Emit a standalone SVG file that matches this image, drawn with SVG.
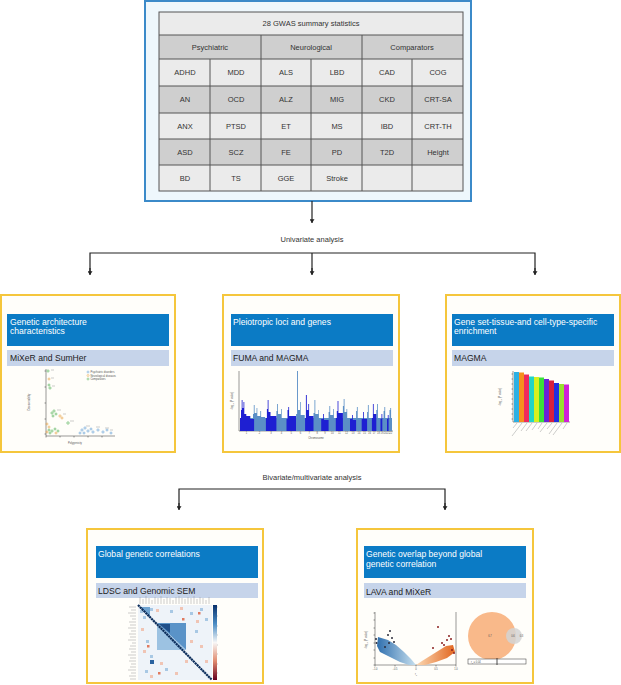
<svg xmlns="http://www.w3.org/2000/svg" width="621" height="685" viewBox="0 0 621 685">
<defs>
<style>
.t{font-family:"Liberation Sans",Arial,sans-serif;}
.cell{font-family:"Liberation Sans",Arial,sans-serif;font-size:7.5px;fill:#333;text-anchor:middle;}
.lab{font-family:"Liberation Sans",Arial,sans-serif;font-size:7.5px;fill:#333;text-anchor:middle;}
.hd{font-family:"Liberation Sans",Arial,sans-serif;font-size:8.6px;fill:#fff;}
.sb{font-family:"Liberation Sans",Arial,sans-serif;font-size:8.6px;fill:#222;}
.tiny{font-family:"Liberation Sans",Arial,sans-serif;font-size:2.6px;fill:#555;}
.ybox{fill:#fffefa;stroke:#f5c63c;stroke-width:2;}
.hbar{fill:#0b7bc5;}
.sbar{fill:#c6d4ea;}
.conn{fill:none;stroke:#222;stroke-width:1.2;}
.ax{fill:none;stroke:#333;stroke-width:0.5;}
.lt{fill:#ebebeb;}
.dk{fill:#cfcfcf;}
.gl{stroke:#555;stroke-width:1;fill:none;}
.ph{stroke:#9a9a9a;stroke-width:0.5;fill:none;}
</style>
<marker id="ah" viewBox="0 0 6 8" refX="6" refY="4" markerWidth="4" markerHeight="5" markerUnits="userSpaceOnUse" orient="auto">
<path d="M0,0 L6,4 L0,8 z" fill="#222"/>
</marker>
<linearGradient id="cbar" x1="0" y1="0" x2="0" y2="1">
<stop offset="0" stop-color="#08306b"/>
<stop offset="0.25" stop-color="#4a8cc4"/>
<stop offset="0.5" stop-color="#f7f7f7"/>
<stop offset="0.75" stop-color="#e08a6e"/>
<stop offset="1" stop-color="#67001f"/>
</linearGradient>
<linearGradient id="vb" x1="0" y1="0" x2="1" y2="0">
<stop offset="0" stop-color="#2f6fae"/>
<stop offset="1" stop-color="#c7e0ef"/>
</linearGradient>
<linearGradient id="vo" x1="0" y1="0" x2="1" y2="0">
<stop offset="0" stop-color="#fbd9b4"/>
<stop offset="1" stop-color="#e2661f"/>
</linearGradient>
</defs>

<rect width="621" height="685" fill="#ffffff"/>

<!-- Top node: GWAS table -->
<g id="gwas-table">
<rect x="145" y="1" width="326" height="200" fill="#eef7fc" stroke="#3b8ac9" stroke-width="2"/>
<rect x="159" y="12" width="304" height="23" class="lt"/>
<rect x="159" y="35" width="304" height="24" class="dk"/>
<rect x="159" y="59" width="304" height="27" class="lt"/>
<rect x="159" y="86" width="304" height="27" class="dk"/>
<rect x="159" y="113" width="304" height="26" class="lt"/>
<rect x="159" y="139" width="304" height="26" class="dk"/>
<rect x="159" y="165" width="304" height="26" class="lt"/>
<rect x="159" y="12" width="304" height="179" class="gl"/>
<path class="gl" d="M159,35H463M159,59H463M159,86H463M159,113H463M159,139H463M159,165H463M261,35V191M362,35V191M210,59V191M311,59V191M412,59V191"/>
<text class="cell" x="311" y="26">28 GWAS summary statistics</text>
<text class="cell" x="210" y="50">Psychiatric</text>
<text class="cell" x="311" y="50">Neurological</text>
<text class="cell" x="412" y="50">Comparators</text>
<g>
<text class="cell" x="185" y="75">ADHD</text><text class="cell" x="236" y="75">MDD</text><text class="cell" x="286" y="75">ALS</text><text class="cell" x="337" y="75">LBD</text><text class="cell" x="387" y="75">CAD</text><text class="cell" x="438" y="75">COG</text>
<text class="cell" x="185" y="102">AN</text><text class="cell" x="236" y="102">OCD</text><text class="cell" x="286" y="102">ALZ</text><text class="cell" x="337" y="102">MIG</text><text class="cell" x="387" y="102">CKD</text><text class="cell" x="438" y="102">CRT-SA</text>
<text class="cell" x="185" y="128.5">ANX</text><text class="cell" x="236" y="128.5">PTSD</text><text class="cell" x="286" y="128.5">ET</text><text class="cell" x="337" y="128.5">MS</text><text class="cell" x="387" y="128.5">IBD</text><text class="cell" x="438" y="128.5">CRT-TH</text>
<text class="cell" x="185" y="154.5">ASD</text><text class="cell" x="236" y="154.5">SCZ</text><text class="cell" x="286" y="154.5">FE</text><text class="cell" x="337" y="154.5">PD</text><text class="cell" x="387" y="154.5">T2D</text><text class="cell" x="438" y="154.5">Height</text>
<text class="cell" x="185" y="180.5">BD</text><text class="cell" x="236" y="180.5">TS</text><text class="cell" x="286" y="180.5">GGE</text><text class="cell" x="337" y="180.5">Stroke</text>
</g>
</g>

<!-- Connectors -->
<g id="connectors">
<line class="conn" x1="312" y1="201" x2="312" y2="223" marker-end="url(#ah)"/>
<path class="conn" d="M90,274V253H535V274"/>
<line class="conn" x1="312" y1="253" x2="312" y2="274"/>
<line class="conn" x1="90" y1="268" x2="90" y2="275" marker-end="url(#ah)"/>
<line class="conn" x1="312" y1="268" x2="312" y2="275" marker-end="url(#ah)"/>
<line class="conn" x1="535" y1="268" x2="535" y2="275" marker-end="url(#ah)"/>
<path class="conn" d="M179,509V489H445V509"/>
<line class="conn" x1="179" y1="503" x2="179" y2="510" marker-end="url(#ah)"/>
<line class="conn" x1="445" y1="503" x2="445" y2="510" marker-end="url(#ah)"/>
<text class="lab" x="312" y="241.5">Univariate analysis</text>
<text class="lab" x="312" y="479.5">Bivariate/multivariate analysis</text>
</g>

<!-- Node: Genetic architecture -->
<g id="genetic-architecture">
<rect class="ybox" x="1" y="295" width="174" height="157"/>
<rect class="hbar" x="7" y="314" width="162" height="32"/>
<rect class="sbar" x="7" y="350" width="162" height="16"/>
<text class="hd" x="10" y="324.5">Genetic architecture</text>
<text class="hd" x="10" y="334">characteristics</text>
<text class="sb" x="10" y="361">MiXeR and SumHer</text>
<g id="scatter">
<path class="ax" d="M46,369V436H115"/>
<path class="ax" d="M44.5,371H46M44.5,387H46M44.5,403H46M44.5,419H46M44.5,434H46M46,436V437.5M60,436V437.5M74,436V437.5M88,436V437.5M102,436V437.5"/>
<text class="tiny" x="30" y="402" transform="rotate(-90 30 402)" text-anchor="middle">Discoverability</text>
<text class="tiny" x="75" y="444" text-anchor="middle">Polygenicity</text>
<circle cx="88" cy="372" r="1" fill="none" stroke="#5b9bd5" stroke-width="0.5"/>
<circle cx="88" cy="375.5" r="1" fill="none" stroke="#e8a040" stroke-width="0.5"/>
<circle cx="88" cy="379" r="1" fill="none" stroke="#4caf50" stroke-width="0.5"/>
<text class="tiny" x="90.5" y="373" font-size="2.2">Psychiatric disorders</text>
<text class="tiny" x="90.5" y="376.5" font-size="2.2">Neurological diseases</text>
<text class="tiny" x="90.5" y="380" font-size="2.2">Comparators</text>
<g fill="none" stroke-width="0.6">
<g stroke="#4caf50">
<circle cx="48" cy="371" r="1.1"/><circle cx="50" cy="388" r="1.1"/><circle cx="49" cy="385" r="1"/>
<circle cx="52" cy="413" r="1.1"/><circle cx="54" cy="411" r="1.1"/><circle cx="56" cy="414" r="1"/><circle cx="53" cy="416" r="1"/>
<circle cx="49" cy="430" r="1"/><circle cx="52" cy="431" r="1.1"/><circle cx="55" cy="429" r="1"/><circle cx="58" cy="431" r="1"/>
<circle cx="68" cy="423" r="1.2"/><circle cx="50" cy="433" r="1"/>
</g>
<g stroke="#e8a040">
<circle cx="49" cy="379" r="1"/><circle cx="60" cy="416" r="1.1"/><circle cx="62" cy="418" r="1"/>
<circle cx="47" cy="424" r="1"/><circle cx="49" cy="427" r="1"/><circle cx="47" cy="432" r="1"/><circle cx="56" cy="433" r="1"/>
</g>
<g stroke="#5b9bd5">
<circle cx="82" cy="430" r="1.1"/><circle cx="85" cy="428" r="1.1"/><circle cx="88" cy="431" r="1.1"/><circle cx="84" cy="433" r="1"/>
<circle cx="91" cy="429" r="1"/><circle cx="93" cy="432" r="1.1"/><circle cx="80" cy="433" r="1"/>
<circle cx="98" cy="430" r="1.1"/><circle cx="103" cy="432" r="1.1"/><circle cx="107" cy="430" r="1"/><circle cx="111" cy="433" r="1"/>
</g>
</g>
<path class="ph" d="M51,370h3M51,378h3M52,386h3M57,410h4M63,414h3M70,421h4M86,426h4M96,427h4M105,428h4M110,430h3"/>
</g>
</g>

<!-- Node: Pleiotropic loci -->
<g id="pleiotropic-loci">
<rect class="ybox" x="223" y="295" width="176" height="157"/>
<rect class="hbar" x="231" y="314" width="162" height="32"/>
<rect class="sbar" x="231" y="350" width="162" height="16"/>
<text class="hd" x="233" y="324.5">Pleiotropic loci and genes</text>
<text class="sb" x="233" y="361">FUMA and MAGMA</text>
<g id="manhattan">
<path class="ax" d="M239,371V431H393"/>
<text class="tiny" x="233" y="401" transform="rotate(-90 233 401)" text-anchor="middle">−log<tspan font-size="1.8" dy="0.8">10</tspan><tspan dy="-0.8"> (P value)</tspan></text>
<text class="tiny" x="316" y="438.5" text-anchor="middle">Chromosome</text>
<g fill="#5b8fc6">
<rect x="240" y="418" width="152" height="13"/>
<path d="M253,418 V414 h0.8 V405 h0.8 V413 h2 V408 h0.7 V416 h3 V411 h0.8 V417 h4 V418z"/>
<path d="M276.4,418 V411 h0.8 V404 h0.8 V414 h3 V409 h0.7 V418z"/>
<path d="M296.1,418 V414 h1 V371 h0.9 V410 h2 V402 h0.7 V415 h4 V418z"/>
<path d="M313.5,418 V413 h1 V400 h0.8 V414 h3 V410 h0.6 V418z"/>
<path d="M328.6,418 V412 h0.8 V406 h0.8 V415 h3 V409 h0.7 V418z"/>
<path d="M342.9,418 V406 h0.8 V399 h0.8 V412 h2 V409 h0.7 V418z"/>
<path d="M356.1,418 V411 h0.8 V407 h0.8 V418z"/>
<path d="M367.1,418 V412 h0.8 V405 h0.8 V418z"/>
<path d="M376.3,418 V410 h0.8 V404 h0.8 V418z"/>
<path d="M383.6,418 V411 h0.8 V407 h0.8 V418z"/>
<path d="M389.5,418 V410 h0.8 V408 h0.8 V418z"/>
</g>
<g fill="#1e1fd2">
<path d="M240,431 V418 h1 V410 h0.7 V400 h0.8 V408 h1 V402 h0.8 V414 h2 V416 h4 V419 h3.8 V431z"/>
<path d="M265.9,431 V418 h1 V409 h0.8 V400 h0.8 V412 h2 V416 h5.9 V431z"/>
<path d="M286.5,431 V419 h1 V410 h0.8 V407 h0.8 V416 h6.9 V431z"/>
<path d="M305.1,431 V418 h0.8 V395 h0.9 V410 h1.5 V404 h0.8 V416 h4.4 V431z"/>
<path d="M321.2,431 V419 h2 V414 h0.8 V420 h4.6 V431z"/>
<path d="M335.8,431 V418 h1 V411 h0.8 V401 h0.8 V413 h4.5 V431z"/>
<path d="M350,431 V419 h2 V415 h0.8 V420 h3.3 V431z"/>
<path d="M361.7,431 V419 h1.4 V412 h0.8 V419 h3.2 V431z"/>
<path d="M371.9,431 V418 h1 V404 h0.8 V414 h2.6 V431z"/>
<path d="M380.5,431 V419 h1 V414 h0.8 V431z"/>
<path d="M387,431 V419 h0.8 V415 h0.8 V431z"/>
</g>
<g class="tiny" font-size="2" text-anchor="middle">
<text x="246.5" y="434">1</text><text x="259.5" y="434">2</text><text x="271.1" y="434">3</text><text x="281.4" y="434">4</text><text x="291.3" y="434">5</text><text x="300.6" y="434">6</text><text x="309.3" y="434">7</text><text x="317.3" y="434">8</text><text x="324.9" y="434">9</text><text x="332.2" y="434">10</text><text x="339.3" y="434">11</text><text x="346.4" y="434">12</text><text x="353" y="434">13</text><text x="358.9" y="434">14</text><text x="364.4" y="434">15</text><text x="369.5" y="434">16</text><text x="374.1" y="434">17</text><text x="378.4" y="434">18</text><text x="382" y="434">19</text><text x="385.3" y="434">20</text><text x="388.2" y="434">21</text><text x="390.8" y="434">22</text>
</g>
</g>
</g>

<!-- Node: Gene set enrichment -->
<g id="gene-set-enrichment">
<rect class="ybox" x="446" y="295" width="174" height="157"/>
<rect class="hbar" x="452" y="314" width="162" height="32"/>
<rect class="sbar" x="452" y="350" width="162" height="16"/>
<text class="hd" x="454" y="324.5">Gene set-tissue-and cell-type-specific</text>
<text class="hd" x="454" y="334">enrichment</text>
<text class="sb" x="454" y="361">MAGMA</text>
<g id="barchart">
<path class="ax" d="M513,371V422H570"/>
<path class="ax" d="M511.5,374H513M511.5,379H513M511.5,384H513M511.5,389H513M511.5,394H513M511.5,399H513M511.5,404H513M511.5,409H513M511.5,414H513M511.5,419H513"/>
<text class="tiny" x="501" y="397" transform="rotate(-90 501 397)" text-anchor="middle">−log<tspan font-size="1.8" dy="0.8">10</tspan><tspan dy="-0.8"> (P value)</tspan></text>
<rect x="514" y="372" width="5" height="50" fill="#2cb0e4"/>
<rect x="519" y="372.5" width="5" height="49.5" fill="#f5901e"/>
<rect x="524" y="374.5" width="5" height="47.5" fill="#ee2a5e"/>
<rect x="529" y="376.5" width="5" height="45.5" fill="#22d4c8"/>
<rect x="534" y="377" width="5" height="45" fill="#d8f020"/>
<rect x="539" y="377.5" width="5" height="44.5" fill="#3ae03a"/>
<rect x="544" y="379" width="5" height="43" fill="#6a22d8"/>
<rect x="549" y="380.5" width="5" height="41.5" fill="#d8203e"/>
<rect x="554" y="383" width="5" height="39" fill="#2030e0"/>
<rect x="559" y="384" width="5" height="38" fill="#98e030"/>
<rect x="564" y="384.5" width="5" height="37.5" fill="#d020d8"/>
<path class="ph" d="M517,423l-4,5M522,423l-10,13M527,423l-6,8M532,423l-6,8M537,423l-5,7M542,423l-4,6M547,423l-7,9M552,423l-5,6M557,423l-8,11M562,423l-9,12M567,423l-4,6"/>
</g>
</g>

<!-- Node: Global genetic correlations -->
<g id="global-genetic-correlations">
<rect class="ybox" x="87" y="529" width="176" height="154"/>
<rect class="hbar" x="96" y="546" width="162" height="32"/>
<rect class="sbar" x="96" y="583" width="162" height="15"/>
<text class="hd" x="98" y="557">Global genetic correlations</text>
<text class="sb" x="98" y="594">LDSC and Genomic SEM</text>
<g id="heatmap">
<rect x="138" y="605" width="74" height="75" fill="#eef3f9"/>
<g fill="#a8c8e4">
<rect x="140" y="610" width="3" height="3"/><rect x="143" y="616" width="3" height="3"/><rect x="150" y="608" width="3" height="3"/><rect x="170" y="610" width="3" height="3"/><rect x="190" y="612" width="3" height="3"/><rect x="200" y="608" width="3" height="3"/>
<rect x="146" y="640" width="3" height="3"/><rect x="150" y="655" width="3" height="3"/><rect x="195" y="630" width="3" height="3"/><rect x="205" y="618" width="3" height="3"/><rect x="145" y="670" width="3" height="3"/><rect x="165" y="668" width="3" height="3"/>
</g>
<g fill="#f0c4b4">
<rect x="156" y="609" width="3" height="3"/><rect x="180" y="607" width="3" height="3"/><rect x="196" y="620" width="3" height="3"/><rect x="141" y="628" width="3" height="3"/><rect x="143" y="650" width="3" height="3"/><rect x="160" y="662" width="3" height="3"/>
<rect x="175" y="672" width="3" height="3"/><rect x="200" y="645" width="3" height="3"/><rect x="185" y="660" width="3" height="3"/><rect x="205" y="660" width="3" height="3"/><rect x="150" y="675" width="3" height="3"/><rect x="190" y="640" width="3" height="3"/>
</g>
<g fill="#e07a60">
<rect x="147" y="645" width="2.5" height="2.5"/><rect x="198" y="612" width="2.5" height="2.5"/><rect x="158" y="672" width="2.5" height="2.5"/><rect x="182" y="618" width="2.5" height="2.5"/>
</g>
<polygon points="157,623 186,623 186,650" fill="#5a93c8"/>
<polygon points="157,623 157,650 186,650" fill="#9cc2e2"/>
<polygon points="159,624 170,624 170,633" fill="#1f4f8a"/>
<polygon points="140,607 150,607 150,617" fill="#6fa3d0"/>
<rect x="150" y="660" width="4" height="4" fill="#2a62a0"/>
<line x1="138" y1="605" x2="212" y2="680" stroke="#0d2e5c" stroke-width="2.2" stroke-dasharray="2.2 0.5"/>
<rect x="213" y="605" width="4" height="75" fill="url(#cbar)"/>
<path class="ph" d="M217,607h1M217,616h1M217,626h1M217,635h1M217,645h1M217,654h1M217,664h1M217,673h1"/>
<path class="ph" d="M129,607h7M131,610h5M128,613h8M130,616h6M132,619h4M129,622h7M130,625h6M128,628h8M131,631h5M129,634h7M130,637h6M128,640h8M132,643h4M130,646h6M129,649h7M131,652h5M128,655h8M130,658h6M129,661h7M131,664h5M130,667h6M128,670h8M131,673h5M129,676h7M130,679h6"/>
<path class="ph" d="M140,597v7M143,599v5M146,596v8M149,598v6M152,600v4M155,597v7M158,598v6M161,596v8M164,599v5M167,597v7M170,598v6M173,600v4M176,597v7M179,596v8M182,598v6M185,599v5M188,597v7M191,598v6M194,596v8M197,599v5M200,597v7M203,598v6M206,600v4M209,597v7"/>
</g>
</g>

<!-- Node: Genetic overlap -->
<g id="genetic-overlap">
<rect class="ybox" x="357" y="529" width="176" height="154"/>
<rect class="hbar" x="364" y="546" width="162" height="32"/>
<rect class="sbar" x="364" y="583" width="162" height="15"/>
<text class="hd" x="366" y="557">Genetic overlap beyond global</text>
<text class="hd" x="366" y="566.5">genetic correlation</text>
<text class="sb" x="366" y="595">LAVA and MiXeR</text>
<g id="volcano">
<path class="ax" d="M375,612V665H456V612"/>
<path class="ax" d="M373.5,665H375M373.5,658H375M373.5,650H375M373.5,643H375M373.5,635H375M373.5,628H375M373.5,620H375M373.5,613H375M375,665v1.5M395,665v1.5M416,665v1.5M436,665v1.5M456,665v1.5"/>
<text class="tiny" x="367" y="640" transform="rotate(-90 367 640)" text-anchor="middle">−log<tspan font-size="1.8" dy="0.8">10</tspan><tspan dy="-0.8"> (P value)</tspan></text>
<g class="tiny" font-size="2.2" text-anchor="middle">
<text x="375" y="669.5">−1.0</text><text x="395" y="669.5">−0.5</text><text x="416" y="669.5">0</text><text x="436" y="669.5">0.5</text><text x="456" y="669.5">1.0</text>
<text x="416" y="675">r<tspan font-size="1.6" dy="0.6">g</tspan></text>
</g>
<polygon points="378,637 388,640 396,645 404,652 411,659 416,665 409,665 400,662 390,657 380,652 377,646" fill="url(#vb)"/>
<polygon points="416,665 422,661 430,656 438,651 446,646 453,645 455,652 447,658 436,662 425,665" fill="url(#vo)"/>
<g fill="#2b2b3a">
<circle cx="388" cy="635" r="1"/><circle cx="392" cy="638" r="1"/><circle cx="394" cy="642" r="1"/><circle cx="389" cy="643" r="1"/><circle cx="385" cy="647" r="1"/><circle cx="376" cy="639" r="1"/><circle cx="376.5" cy="643" r="1"/><circle cx="390" cy="631" r="1"/>
</g>
<g fill="#8b1f1f">
<circle cx="438" cy="627" r="1"/><circle cx="442" cy="643" r="1"/><circle cx="447" cy="640" r="1"/><circle cx="451" cy="639" r="1"/><circle cx="452" cy="650" r="1"/><circle cx="454" cy="653" r="1"/><circle cx="433" cy="648" r="1"/><circle cx="444" cy="645" r="1"/><circle cx="449" cy="636" r="1"/>
</g>
</g>
<g id="venn">
<circle cx="492" cy="636" r="24" fill="#f9b98a"/>
<circle cx="514" cy="636" r="8" fill="#d4d4d4" opacity="0.85"/>
<text class="tiny" x="490" y="637" text-anchor="middle">6.7</text>
<text class="tiny" x="513" y="637" text-anchor="middle">0.6</text>
<text class="tiny" x="521.5" y="637" text-anchor="middle">0.3</text>
<rect x="468" y="659" width="58" height="5" fill="#fff" stroke="#333" stroke-width="0.5"/>
<line x1="497" y1="658" x2="497" y2="665" stroke="#222" stroke-width="0.8"/>
<text class="tiny" x="471" y="663">r<tspan font-size="1.6" dy="0.6">g</tspan><tspan dy="-0.6"> = 0.04</tspan></text>
</g>
</g>
</svg>
